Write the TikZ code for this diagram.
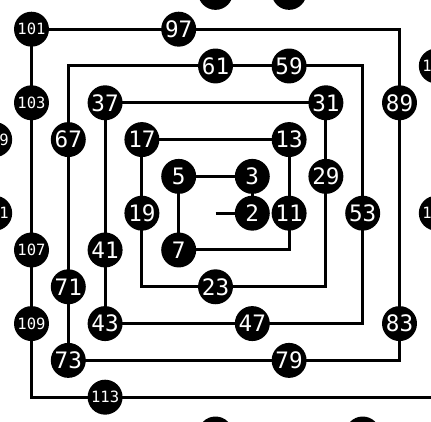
\documentclass[tikz,border=0pt]{standalone}
\usepackage{fontspec}
\newfontfamily\monofont{DejaVu Sans Mono}
\usepackage{tikz}
\usetikzlibrary{calc}

\begin{document}
\begin{tikzpicture}[
    prime/.style={circle, fill=black, text=white, inner sep=0pt,
      minimum size=0.95cm, font=\monofont\fontsize{17.5}{17.5}\selectfont},
    bigprime/.style={prime, font=\monofont\fontsize{12}{12}\selectfont},
    spiral/.style={line width=2.3pt}
  ]
        % Fix the frame
        \path[fill=white, use as bounding box] (-5.856,-5.674) rectangle (5.856,5.793);
        % Draw the spiral
        \coordinate (one) at (0,0);
        \draw[spiral] (one) -- (1,0) -- (1,1) -- (-1,1) -- (-1,-1) -- (2,-1)
          -- (2,2) -- (-2,2) -- (-2,-2) -- (3,-2) -- (3,3) -- (-3,3)
          -- (-3,-3) -- (4,-3) -- (4,4) -- (-4,4) -- (-4,-4) -- (5,-4)
          -- (5,5) -- (-5,5) -- (-5,-5) -- (6.5,-5);
        % Add the primes
        \foreach \n/\x/\y in {2/1/0, 3/1/1, 5/-1/1, 7/-1/-1, 11/2/0, 13/2/2,
            17/-2/2, 19/-2/0, 23/0/-2, 29/3/1, 31/3/3, 37/-3/3, 41/-3/-1,
            43/-3/-3, 47/1/-3, 53/4/0, 59/2/4, 61/0/4, 67/-4/2, 71/-4/-2,
            73/-4/-4, 79/2/-4, 83/5/-3, 89/5/3, 97/-1/5}
          \node[prime] (p\n) at (\x,\y) {\n};
        \foreach \n/\x/\y in {101/-5/5, 103/-5/3, 107/-5/-1, 109/-5/-3,
            113/-3/-5, 127/6/0, 131/6/4, 137/2/6, 139/0/6, 149/-6/2,
            151/-6/0, 163/0/-6, 167/4/-6}
          \node[bigprime] (p\n) at (\x,\y) {\n};
      \end{tikzpicture}
\end{document}
